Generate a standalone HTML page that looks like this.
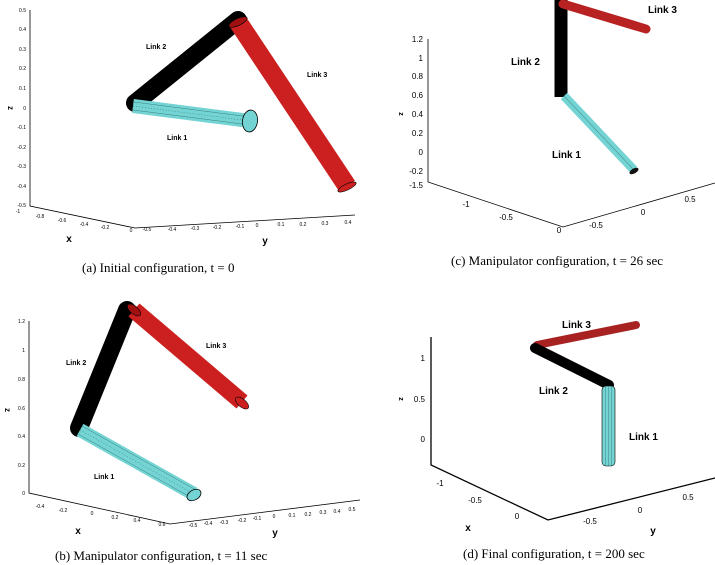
<!DOCTYPE html>
<html><head><meta charset="utf-8"><style>
html,body{margin:0;padding:0;background:#fff;}
svg{display:block;}
.t{font-family:"Liberation Sans",sans-serif;font-size:5px;fill:#000;}
.t8{font-family:"Liberation Sans",sans-serif;font-size:8px;fill:#000;}
.lb{font-family:"Liberation Sans",sans-serif;font-weight:bold;fill:#000;}
.cap{font-family:"Liberation Serif",serif;font-size:13px;fill:#000;}
.ax{stroke:#000;stroke-width:0.8;fill:none;}
.ax2{stroke:#000;stroke-width:1.3;fill:none;}
</style></head><body>
<svg width="715" height="565" viewBox="0 0 715 565" xmlns="http://www.w3.org/2000/svg">
<!-- Panel a -->
<g>
<polyline class="ax" points="30,10 30,206 135,228 355,215"/>
<g class="t" text-anchor="end">
<text x="26" y="12">0.5</text><text x="26" y="31">0.4</text><text x="26" y="51">0.3</text><text x="26" y="70">0.2</text><text x="26" y="90">0.1</text><text x="26" y="110">0</text><text x="26" y="129">-0.1</text><text x="26" y="149">-0.2</text><text x="26" y="168">-0.3</text><text x="26" y="188">-0.4</text><text x="26" y="207">-0.5</text>
</g>
<g class="t" text-anchor="middle">
<text x="18" y="213">-1</text><text x="40" y="218">-0.8</text><text x="62" y="222">-0.6</text><text x="84" y="226">-0.4</text><text x="105" y="229">-0.2</text><text x="131" y="232">0</text>
<text x="147" y="231">-0.5</text><text x="172" y="231">-0.4</text><text x="195" y="230">-0.3</text><text x="217" y="229">-0.2</text><text x="240" y="228">-0.1</text><text x="257" y="227">0</text><text x="281" y="226">0.1</text><text x="303" y="226">0.2</text><text x="325" y="225">0.3</text><text x="348" y="224">0.4</text>
</g>
<text class="lb" x="69" y="242" font-size="10" text-anchor="middle">x</text>
<text class="lb" x="265" y="244" font-size="10" text-anchor="middle">y</text>
<text class="lb" x="8" y="108" font-size="8" text-anchor="middle" transform="rotate(90 8 108)">z</text>
<line x1="135" y1="103" x2="238" y2="20" stroke="#000" stroke-width="18" stroke-linecap="round"/>
<line x1="133" y1="106" x2="250" y2="121" stroke="#74d4d4" stroke-width="14"/>
<line x1="133" y1="106" x2="250" y2="121" stroke="#2a6a6a" stroke-width="0.5" stroke-dasharray="1 2"/>
<line x1="134" y1="102" x2="250" y2="117" stroke="#2a6a6a" stroke-width="0.4"/>
<line x1="133" y1="110" x2="250" y2="125" stroke="#2a6a6a" stroke-width="0.4"/>
<ellipse cx="250" cy="121" rx="11" ry="7.5" transform="rotate(-82 250 121)" fill="#74d4d4" stroke="#000" stroke-width="0.8"/>
<line x1="238" y1="22" x2="347" y2="186" stroke="#cc2020" stroke-width="19"/>
<ellipse cx="238" cy="22" rx="10" ry="3.5" transform="rotate(-25 238 22)" fill="#a01010" stroke="#000" stroke-width="0.6"/>
<ellipse cx="347" cy="187" rx="10" ry="3" transform="rotate(-25 347 187)" fill="#cc2020" stroke="#000" stroke-width="0.6"/>
<text class="lb" x="146" y="49" font-size="7">Link 2</text>
<text class="lb" x="307" y="77" font-size="7">Link 3</text>
<text class="lb" x="167" y="140" font-size="7">Link 1</text>
<text class="cap" x="82" y="272">(a) Initial configuration, t = 0</text>
</g>
<!-- Panel c -->
<g>
<polyline class="ax" points="428,39 428,182 563,227 715,183"/>
<g class="t8" text-anchor="end">
<text x="423" y="42">1.2</text><text x="423" y="61">1</text><text x="423" y="79">0.8</text><text x="423" y="98">0.6</text><text x="423" y="117">0.4</text><text x="423" y="136">0.2</text><text x="423" y="155">0</text><text x="423" y="174">-0.2</text><text x="423" y="188">-1.5</text>
</g>
<g class="t8" text-anchor="middle">
<text x="466" y="207">-1</text><text x="506" y="220">-0.5</text><text x="559" y="233">0</text>
<text x="596" y="228">-0.5</text><text x="643" y="215">0</text><text x="690" y="202">0.5</text>
</g>
<text class="lb" x="399" y="114" font-size="7" text-anchor="middle" transform="rotate(90 399 114)">z</text>
<line x1="561" y1="0" x2="561" y2="97" stroke="#000" stroke-width="13"/>
<line x1="564" y1="96" x2="634" y2="170" stroke="#74d4d4" stroke-width="9"/>
<line x1="564" y1="96" x2="634" y2="170" stroke="#2a6a6a" stroke-width="0.5"/>
<ellipse cx="634" cy="171" rx="5" ry="2.5" transform="rotate(-30 634 171)" fill="#111"/>
<line x1="563" y1="4" x2="646" y2="29" stroke="#b82222" stroke-width="9" stroke-linecap="round"/>
<text class="lb" x="648" y="13" font-size="10">Link 3</text>
<text class="lb" x="511" y="65" font-size="10">Link 2</text>
<text class="lb" x="552" y="158" font-size="10">Link 1</text>
<text class="cap" x="451" y="265">(c) Manipulator configuration, t = 26 sec</text>
</g>
<!-- Panel b -->
<g>
<polyline class="ax" points="29,321 29,493 170,524 360,500"/>
<g class="t" text-anchor="end">
<text x="25" y="323">1.2</text><text x="25" y="352">1</text><text x="25" y="381">0.8</text><text x="25" y="410">0.6</text><text x="25" y="438">0.4</text><text x="25" y="467">0.2</text><text x="25" y="495">0</text>
</g>
<g class="t" text-anchor="middle">
<text x="40" y="508">-0.4</text><text x="63" y="512">-0.2</text><text x="92" y="515">0</text><text x="115" y="519">0.2</text><text x="137" y="522">0.4</text><text x="162" y="526">0.6</text>
<text x="193" y="527">-0.5</text><text x="208" y="525">-0.4</text><text x="224" y="524">-0.3</text><text x="242" y="522">-0.2</text><text x="257" y="520">-0.1</text><text x="274" y="518">0</text><text x="292" y="517">0.1</text><text x="308" y="516">0.2</text><text x="323" y="514">0.3</text><text x="337" y="513">0.4</text><text x="352" y="511">0.5</text>
</g>
<text class="lb" x="78" y="534" font-size="10" text-anchor="middle">x</text>
<text class="lb" x="275" y="536" font-size="10" text-anchor="middle">y</text>
<text class="lb" x="5" y="410" font-size="8" text-anchor="middle" transform="rotate(90 5 410)">z</text>
<line x1="79" y1="428" x2="127" y2="310" stroke="#000" stroke-width="18" stroke-linecap="round"/>
<line x1="80" y1="430" x2="194" y2="494" stroke="#74d4d4" stroke-width="14"/>
<line x1="80" y1="430" x2="194" y2="494" stroke="#2a6a6a" stroke-width="0.5" stroke-dasharray="1 2"/>
<line x1="82" y1="426" x2="196" y2="490" stroke="#2a6a6a" stroke-width="0.4"/>
<line x1="78" y1="434" x2="192" y2="498" stroke="#2a6a6a" stroke-width="0.4"/>
<ellipse cx="194" cy="495" rx="7.5" ry="5" transform="rotate(-30 194 495)" fill="#74d4d4" stroke="#000" stroke-width="0.8"/>
<line x1="134" y1="310" x2="242" y2="402" stroke="#cc2020" stroke-width="17"/>
<ellipse cx="134" cy="310" rx="8" ry="4" transform="rotate(40 134 310)" fill="#a01010" stroke="#000" stroke-width="0.6"/>
<ellipse cx="242" cy="403" rx="8" ry="4" transform="rotate(40 242 403)" fill="#cc2020" stroke="#000" stroke-width="0.6"/>
<text class="lb" x="66" y="365" font-size="7">Link 2</text>
<text class="lb" x="206" y="348" font-size="7">Link 3</text>
<text class="lb" x="94" y="479" font-size="7">Link 1</text>
<text class="cap" x="55" y="560">(b) Manipulator configuration, t = 11 sec</text>
</g>
<!-- Panel d -->
<g>
<polyline class="ax2" points="431,337 431,465 548,520 715,478"/>
<g class="t8" text-anchor="end">
<text x="425" y="361">1</text><text x="425" y="402">0.5</text><text x="425" y="442">0</text>
</g>
<g class="t8" text-anchor="middle">
<text x="440" y="486">-1</text><text x="475" y="503">-0.5</text><text x="517" y="519">0</text>
<text x="590" y="524">-0.5</text><text x="640" y="513">0</text><text x="688" y="500">0.5</text>
</g>
<text class="lb" x="468" y="531" font-size="10" text-anchor="middle">x</text>
<text class="lb" x="653" y="534" font-size="10" text-anchor="middle">y</text>
<text class="lb" x="399" y="399" font-size="7" text-anchor="middle" transform="rotate(90 399 399)">z</text>
<line x1="537" y1="345" x2="636" y2="325" stroke="#a82222" stroke-width="8" stroke-linecap="round"/>
<line x1="535" y1="348" x2="609" y2="385" stroke="#000" stroke-width="10" stroke-linecap="round"/>
<rect x="602" y="386" width="13" height="80" rx="4" fill="#74d4d4" stroke="#000" stroke-width="0.6"/>
<line x1="605.5" y1="386" x2="605.5" y2="466" stroke="#2a6a6a" stroke-width="0.4"/>
<line x1="608.5" y1="386" x2="608.5" y2="466" stroke="#2a6a6a" stroke-width="0.4"/>
<line x1="611.5" y1="386" x2="611.5" y2="466" stroke="#2a6a6a" stroke-width="0.4"/>
<text class="lb" x="562" y="328" font-size="10">Link 3</text>
<text class="lb" x="539" y="394" font-size="10">Link 2</text>
<text class="lb" x="629" y="440" font-size="10">Link 1</text>
<text class="cap" x="463" y="558">(d) Final configuration, t = 200 sec</text>
</g>
</svg>
</body></html>
